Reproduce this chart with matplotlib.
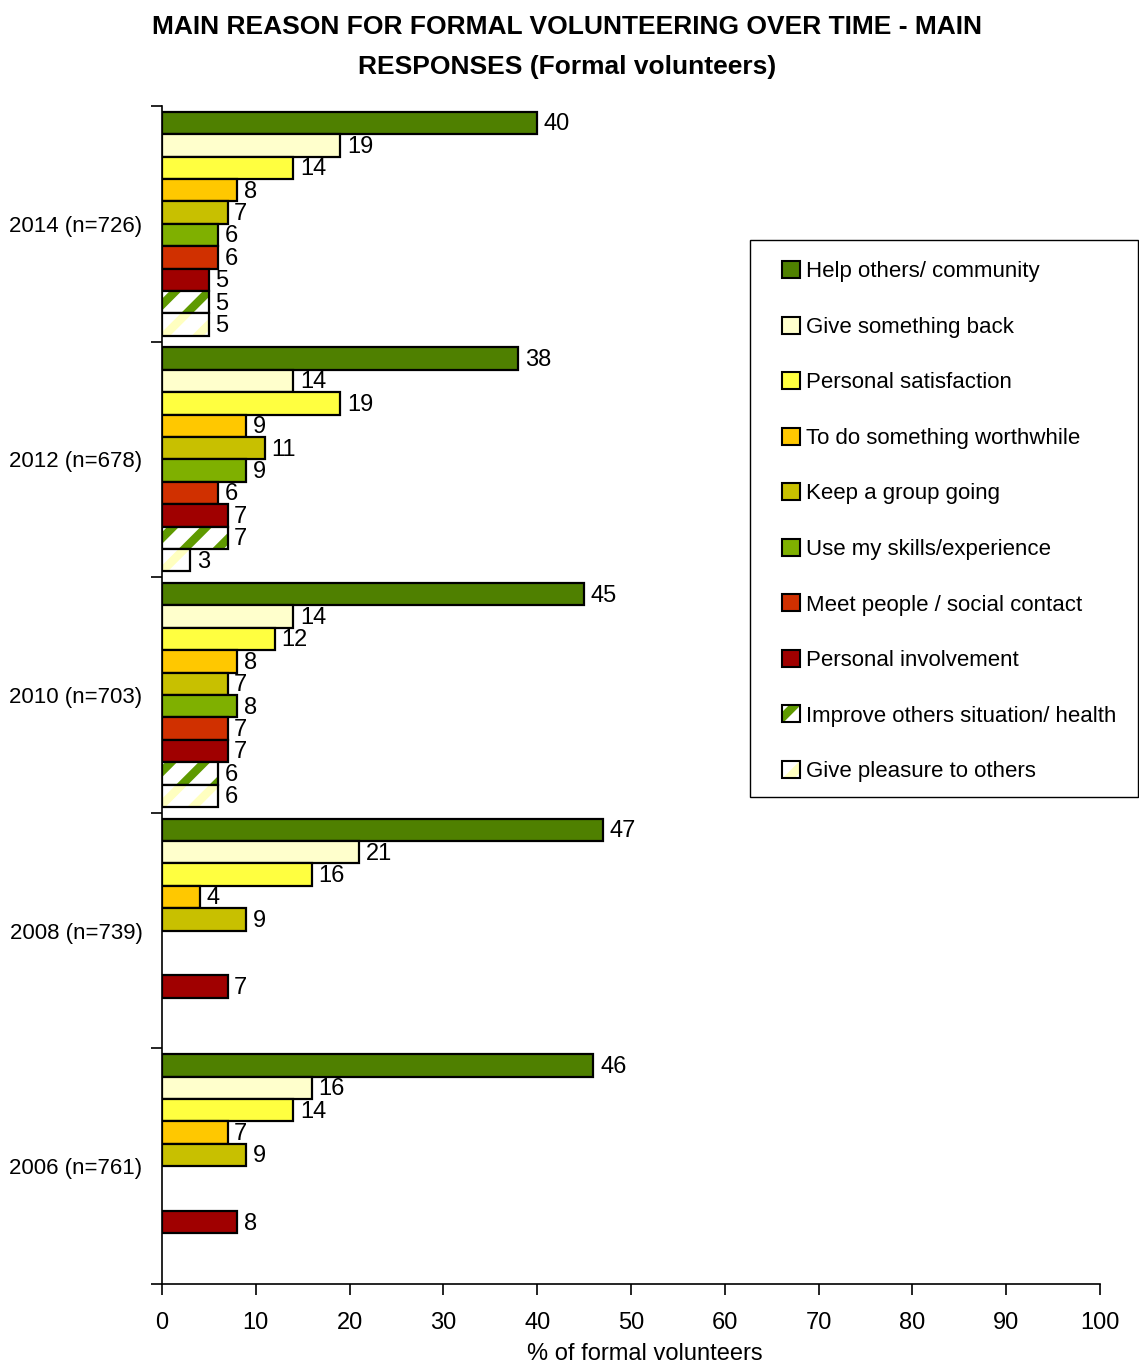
import numpy as np
import matplotlib
matplotlib.use("Agg")
import matplotlib.pyplot as plt
from matplotlib.patches import Patch, Rectangle

plt.rcParams["font.family"] = ["Liberation Sans", "DejaVu Sans"]
plt.rcParams["hatch.linewidth"] = 6

years = ["2014 (n=726)", "2012 (n=678)", "2010 (n=703)", "2008 (n=739)", "2006 (n=761)"]
reasons = [
    "Help others/ community",
    "Give something back",
    "Personal satisfaction",
    "To do something worthwhile",
    "Keep a group going",
    "Use my skills/experience",
    "Meet people / social contact",
    "Personal involvement",
    "Improve others situation/ health",
    "Give pleasure to others",
]
nan = np.nan
help_others = [40, 38, 45, 47, 46]
give_back = [19, 14, 14, 21, 16]
personal_satisfaction = [14, 19, 12, 16, 14]
worthwhile = [8, 9, 8, 4, 7]
keep_group = [7, 11, 7, 9, 9]
use_skills = [6, 9, 8, nan, nan]
meet_people = [6, 6, 7, nan, nan]
personal_involvement = [5, 7, 7, 7, 8]
improve_others = [5, 7, 6, nan, nan]
give_pleasure = [5, 3, 6, nan, nan]

series = [help_others, give_back, personal_satisfaction, worthwhile, keep_group,
          use_skills, meet_people, personal_involvement, improve_others, give_pleasure]
colors = ["#4F8000", "#FFFFCC", "#FFFF40", "#FFC800", "#C8C000",
          "#7FB000", "#D03000", "#A00000", "#5F9A00", "#FFFFC0"]
hatched = [False] * 8 + [True, True]

W, H = 1139, 1365
fig = plt.figure(figsize=(W / 100, H / 100), dpi=100)
ax = fig.add_axes([162 / W, 1 - 1284 / H, (1100 - 162) / W, (1284 - 106) / H])

n_groups = len(years)
h = 0.095
pad = 0.025
groups = np.arange(n_groups)
label_dy = 0.006  # nudge value labels slightly downward

for i, (vals, col, hat) in enumerate(zip(series, colors, hatched)):
    vals = np.array(vals, dtype=float)
    ypos = groups + pad + (i + 0.5) * h
    mask = ~np.isnan(vals)
    if hat:
        ax.barh(ypos[mask], vals[mask], height=h, color="white", edgecolor=col,
                hatch="/", linewidth=0)
        ax.barh(ypos[mask], vals[mask], height=h, fill=False, edgecolor="black",
                linewidth=1.6)
    else:
        ax.barh(ypos[mask], vals[mask], height=h, color=col, edgecolor="black",
                linewidth=1.6)
    for y, v in zip(ypos[mask], vals[mask]):
        ax.text(v + 0.7, y + label_dy, f"{v:g}", va="center", ha="left", fontsize=17)

ax.set_xlim(0, 100)
ax.set_ylim(n_groups, 0)
ax.set_xticks(np.arange(0, 101, 10))
ax.set_yticks(np.arange(0, n_groups + 1))
ax.set_yticklabels([])
ax.set_yticks(groups + 0.5, minor=True)
ax.set_yticklabels(years, minor=True, fontsize=16)
ax.tick_params(axis="y", which="minor", length=0, pad=14)
ax.tick_params(axis="y", which="major", length=8, width=1.2, direction="out")
ax.tick_params(axis="x", length=8, width=1.2, direction="out", labelsize=17, pad=12)
for s in ["top", "right"]:
    ax.spines[s].set_visible(False)
for s in ["left", "bottom"]:
    ax.spines[s].set_linewidth(1.2)
ax.set_xlabel("% of formal volunteers", fontsize=17)
ax.xaxis.set_label_coords((645 - 162) / (1100 - 162), -(1343 - 1284) / (1284 - 106))

fig.suptitle("MAIN REASON FOR FORMAL VOLUNTEERING OVER TIME - MAIN\nRESPONSES (Formal volunteers)",
             x=567 / W, y=1 - 15 / H, fontsize=19, fontweight="bold", linespacing=1.85)

# Legend: entries without frame, plus a plain rectangular border
handles = []
for col, hat in zip(colors, hatched):
    if hat:
        handles.append((Patch(facecolor="white", edgecolor=col, hatch="/", linewidth=0),
                        Patch(fill=False, edgecolor="black", linewidth=1.5)))
    else:
        handles.append(Patch(facecolor=col, edgecolor="black", linewidth=1.5))
fig.legend(handles, reasons, loc="upper left",
           bbox_to_anchor=(782 / W, 1 - 261 / H), fontsize=16,
           frameon=False, handlelength=0.8, handleheight=0.8, handletextpad=0.3,
           labelspacing=1.545, borderpad=0, borderaxespad=0)
fig.patches.append(Rectangle((750 / W, 1 - 797 / H), (1137.5 - 750) / W, (797 - 240) / H,
                             transform=fig.transFigure, fill=False,
                             edgecolor="black", linewidth=1.0))

fig.savefig("out.png", dpi=100)
